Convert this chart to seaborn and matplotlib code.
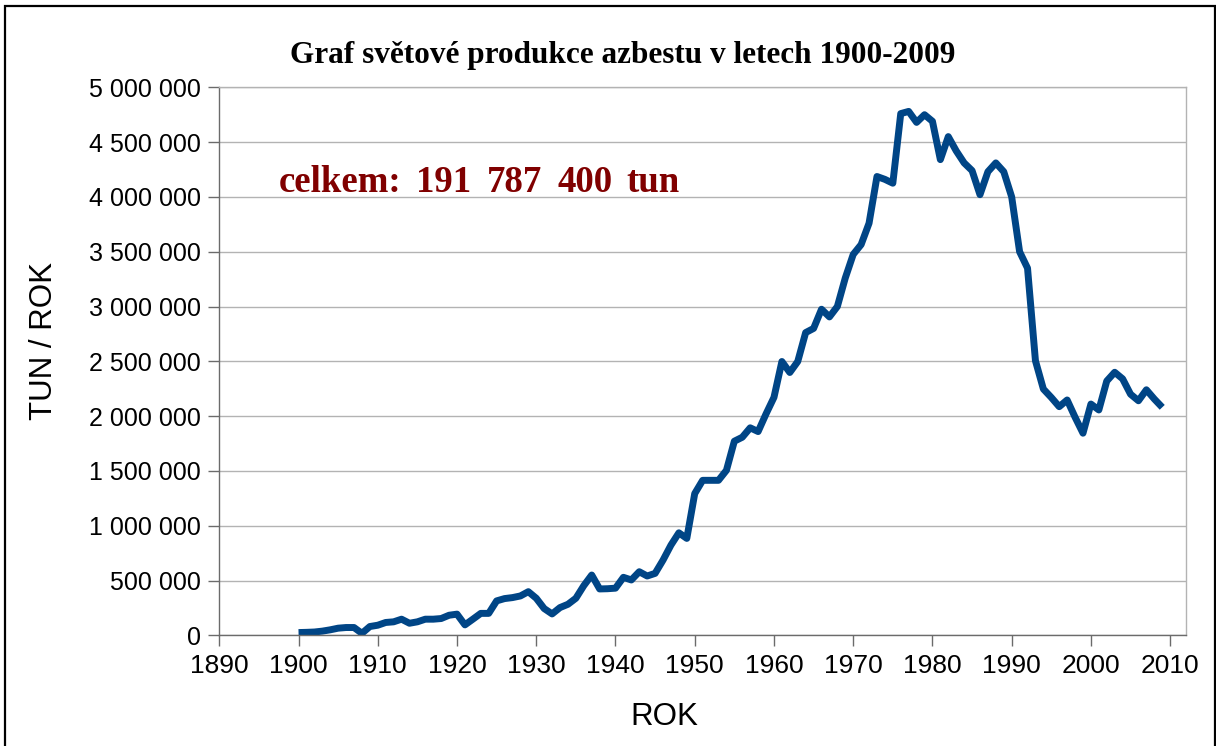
import matplotlib
matplotlib.use("Agg")
import matplotlib.pyplot as plt
import matplotlib.ticker as mticker
from matplotlib.patches import Rectangle
import seaborn as sns
import pandas as pd

# ---- data ----
years = list(range(1900, 2010))
production = [
    25000, 27000, 30000, 38000, 50000, 65000, 71000, 71000, 18000, 80000,      # 1900-1909
    92000, 117000, 123000, 147000, 110000, 123000, 147000, 147000, 153000, 183000,  # 1910-1919
    193000, 95000, 147000, 200000, 200000, 314000, 335000, 344000, 359000, 398000,  # 1920-1929
    338000, 244000, 195000, 253000, 283000, 338000, 453000, 550000, 423000, 425000,  # 1930-1939
    430000, 529000, 505000, 580000, 541000, 565000, 686000, 823000, 935000, 884000,  # 1940-1949
    1293000, 1414000, 1414000, 1414000, 1505000, 1771000, 1807000, 1893000, 1859000, 2020000,  # 1950-1959
    2171000, 2498000, 2398000, 2498000, 2762000, 2800000, 2975000, 2905000, 3000000, 3260000,  # 1960-1969
    3475000, 3565000, 3760000, 4186000, 4160000, 4125000, 4760000, 4780000, 4680000, 4750000,  # 1970-1979
    4690000, 4340000, 4550000, 4420000, 4310000, 4240000, 4020000, 4230000, 4310000, 4230000,  # 1980-1989
    4000000, 3500000, 3350000, 2505000, 2247000, 2170000, 2086000, 2147000, 1990000, 1844000,  # 1990-1999
    2110000, 2056000, 2320000, 2400000, 2340000, 2200000, 2140000, 2240000, 2156000, 2080000,  # 2000-2009
]
x_ticks = list(range(1890, 2011, 10))
y_ticks = list(range(0, 5000001, 500000))

title_text = "Graf světové produkce azbestu v letech 1900-2009"
total_words = ["celkem:", "191", "787", "400", "tun"]
x_label = "ROK"
y_label = "TUN / ROK"

# ---- style ----
sns.set_style("white")
plt.rcParams["font.family"] = ["Liberation Sans", "DejaVu Sans"]

W, H = 1216, 746
fig = plt.figure(figsize=(W / 100, H / 100), dpi=100)
fig.patch.set_facecolor("white")

def fx(px):
    return px / W

def fy(py):
    return 1 - py / H

left, right, top, bottom = 219.3, 1186.0, 87.3, 635.3
ax = fig.add_axes([fx(left), fy(bottom), fx(right) - fx(left), fy(top) - fy(bottom)])

df = pd.DataFrame({"year": years, "tons": production})
sns.lineplot(data=df, x="year", y="tons", ax=ax, color="#004586",
             linewidth=5.0, solid_joinstyle="round", solid_capstyle="butt")

ax.set_xlim(1890, 2012)
ax.set_ylim(0, 5000000)
ax.set_xticks(x_ticks)
ax.set_yticks(y_ticks)
ax.yaxis.set_major_formatter(mticker.FuncFormatter(lambda v, p: f"{v:,.0f}".replace(",", " ")))
ax.set_xlabel("")
ax.set_ylabel("")

ax.grid(axis="y", color="#b3b3b3", linewidth=1.0)
ax.grid(axis="x", visible=False)
ax.set_axisbelow(True)

for side in ["top", "right"]:
    ax.spines[side].set_color("#b3b3b3")
    ax.spines[side].set_linewidth(1.0)
for side in ["left", "bottom"]:
    ax.spines[side].set_color("#6b6b6b")
    ax.spines[side].set_linewidth(1.0)

ax.tick_params(axis="y", direction="out", length=8, width=1, color="#6b6b6b",
               labelsize=18, pad=5.5, left=True)
ax.tick_params(axis="x", direction="out", length=8, width=1, color="#6b6b6b",
               labelsize=19, pad=5.5, bottom=True)
for lab in ax.get_xticklabels() + ax.get_yticklabels():
    lab.set_color("black")

# ---- texts ----
fig.text(fx(623), fy(63.3), title_text, ha="center", va="baseline",
         fontsize=22.5, fontweight="bold", family=["Liberation Serif", "DejaVu Serif"],
         color="black")

word_lefts = [278.3, 416.0, 486.7, 557.7, 626.7]
for w, xl in zip(total_words, word_lefts):
    fig.text(fx(xl), fy(192.3), w, ha="left", va="baseline", fontsize=26.5,
             fontweight="bold", family=["Liberation Serif", "DejaVu Serif"],
             color="#800000")

fig.text(fx(664.7), fy(717.2), x_label, ha="center", va="center", fontsize=22.5,
         color="black")
fig.text(fx(44), fy(341), y_label, ha="center", va="center", fontsize=22.5,
         rotation=90, color="black")

# outer frame of the chart
fig.add_artist(Rectangle((fx(4.5), fy(748)), fx(1214.5) - fx(4.5), fy(6) - fy(748),
                         transform=fig.transFigure, fill=False, edgecolor="black",
                         linewidth=1.6, clip_on=False))

fig.savefig("out.png", dpi=100, facecolor="white")
